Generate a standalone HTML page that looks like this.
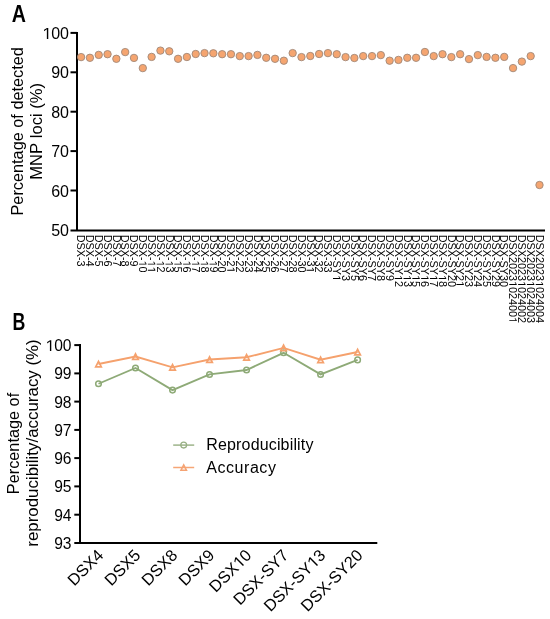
<!DOCTYPE html>
<html><head><meta charset="utf-8"><style>
html,body{margin:0;padding:0;background:#fff;}
body{width:550px;height:619px;overflow:hidden;}
svg{display:block;will-change:transform;}
text{font-family:"Liberation Sans",sans-serif;fill:#000;font-kerning:none;white-space:pre;}
.pl{font-size:23.4px;font-weight:bold;}
.tk{font-size:16px;}
.tkb{font-size:15.6px;}
.tt2{font-size:16.6px;}
.tt3{font-size:16.9px;}
.tt{font-size:16.3px;}
.xl{font-size:10.8px;}
.xb{font-size:16.4px;}
.lt{font-size:16px;}
.ax{stroke:#000;stroke-width:2;}
.dot{fill:#F5A570;stroke:#A08878;stroke-width:0.9;}
.lo{fill:none;stroke:#F5A16D;stroke-width:1.9;}
.lg{fill:none;stroke:#8EAA77;stroke-width:1.9;}
.lol{stroke:#F6A676;stroke-width:1.5;}
.lgl{stroke:#9DB48A;stroke-width:1.5;}
.cirl{fill:none;stroke:#98B085;stroke-width:1.3;}
.tril{fill:none;stroke:#F5A373;stroke-width:1.5;}
.tri{fill:none;stroke:#F5A16D;stroke-width:1.7;}
.cir{fill:none;stroke:#8EAA77;stroke-width:1.5;}
</style></head><body>
<svg width="550" height="619" viewBox="0 0 550 619">
<text transform="translate(11.8,22.1) scale(0.84,1)" class="pl">A</text>
<line x1="77.0" y1="31.9" x2="77.0" y2="230.9" class="ax"/>
<line x1="70.5" y1="230.4" x2="545" y2="230.4" class="ax"/>
<line x1="70.5" y1="32.9" x2="77.0" y2="32.9" class="ax"/>
<line x1="70.5" y1="72.3" x2="77.0" y2="72.3" class="ax"/>
<line x1="70.5" y1="111.7" x2="77.0" y2="111.7" class="ax"/>
<line x1="70.5" y1="151.1" x2="77.0" y2="151.1" class="ax"/>
<line x1="70.5" y1="190.5" x2="77.0" y2="190.5" class="ax"/>
<g transform="translate(69,38.90)"><text x="-26.695" y="0" class="tk"> 00</text><path transform="translate(-26.695,0) scale(0.00781,-0.00781)" d="M583 0H763V1409H600L225 1165V995L583 1232Z"/></g>
<g transform="translate(69,78.30)"><text x="-17.797" y="0" class="tk">90</text></g>
<g transform="translate(69,117.70)"><text x="-17.797" y="0" class="tk">80</text></g>
<g transform="translate(69,157.10)"><text x="-17.797" y="0" class="tk">70</text></g>
<g transform="translate(69,196.50)"><text x="-17.797" y="0" class="tk">60</text></g>
<g transform="translate(69,235.90)"><text x="-17.797" y="0" class="tk">50</text></g>
<text transform="translate(22.6,131.3) rotate(-90)" class="tt" text-anchor="middle">Percentage of detected</text>
<text transform="translate(42.3,131.3) rotate(-90)" class="tt2" text-anchor="middle">MNP loci (%)</text>
<circle cx="81.10" cy="57.1" r="3.7" class="dot"/>
<circle cx="89.92" cy="57.8" r="3.7" class="dot"/>
<circle cx="98.73" cy="54.9" r="3.7" class="dot"/>
<circle cx="107.55" cy="54.2" r="3.7" class="dot"/>
<circle cx="116.36" cy="58.8" r="3.7" class="dot"/>
<circle cx="125.18" cy="52.1" r="3.7" class="dot"/>
<circle cx="133.99" cy="57.9" r="3.7" class="dot"/>
<circle cx="142.81" cy="68.1" r="3.7" class="dot"/>
<circle cx="151.62" cy="56.9" r="3.7" class="dot"/>
<circle cx="160.44" cy="50.6" r="3.7" class="dot"/>
<circle cx="169.25" cy="51.3" r="3.7" class="dot"/>
<circle cx="178.07" cy="58.8" r="3.7" class="dot"/>
<circle cx="186.88" cy="57.0" r="3.7" class="dot"/>
<circle cx="195.70" cy="54.0" r="3.7" class="dot"/>
<circle cx="204.52" cy="53.1" r="3.7" class="dot"/>
<circle cx="213.33" cy="53.3" r="3.7" class="dot"/>
<circle cx="222.15" cy="54.2" r="3.7" class="dot"/>
<circle cx="230.96" cy="54.2" r="3.7" class="dot"/>
<circle cx="239.78" cy="56.1" r="3.7" class="dot"/>
<circle cx="248.59" cy="56.1" r="3.7" class="dot"/>
<circle cx="257.41" cy="54.9" r="3.7" class="dot"/>
<circle cx="266.22" cy="57.8" r="3.7" class="dot"/>
<circle cx="275.04" cy="58.8" r="3.7" class="dot"/>
<circle cx="283.85" cy="60.7" r="3.7" class="dot"/>
<circle cx="292.67" cy="53.1" r="3.7" class="dot"/>
<circle cx="301.48" cy="57.1" r="3.7" class="dot"/>
<circle cx="310.30" cy="56.0" r="3.7" class="dot"/>
<circle cx="319.12" cy="54.0" r="3.7" class="dot"/>
<circle cx="327.93" cy="53.1" r="3.7" class="dot"/>
<circle cx="336.75" cy="54.2" r="3.7" class="dot"/>
<circle cx="345.56" cy="57.1" r="3.7" class="dot"/>
<circle cx="354.38" cy="58.0" r="3.7" class="dot"/>
<circle cx="363.19" cy="56.1" r="3.7" class="dot"/>
<circle cx="372.01" cy="56.1" r="3.7" class="dot"/>
<circle cx="380.82" cy="55.1" r="3.7" class="dot"/>
<circle cx="389.64" cy="60.7" r="3.7" class="dot"/>
<circle cx="398.45" cy="59.9" r="3.7" class="dot"/>
<circle cx="407.27" cy="57.8" r="3.7" class="dot"/>
<circle cx="416.08" cy="57.8" r="3.7" class="dot"/>
<circle cx="424.90" cy="52.0" r="3.7" class="dot"/>
<circle cx="433.72" cy="56.1" r="3.7" class="dot"/>
<circle cx="442.53" cy="54.2" r="3.7" class="dot"/>
<circle cx="451.35" cy="57.1" r="3.7" class="dot"/>
<circle cx="460.16" cy="54.2" r="3.7" class="dot"/>
<circle cx="468.98" cy="59.1" r="3.7" class="dot"/>
<circle cx="477.79" cy="55.1" r="3.7" class="dot"/>
<circle cx="486.61" cy="56.9" r="3.7" class="dot"/>
<circle cx="495.42" cy="57.8" r="3.7" class="dot"/>
<circle cx="504.24" cy="56.9" r="3.7" class="dot"/>
<circle cx="513.05" cy="68.1" r="3.7" class="dot"/>
<circle cx="521.87" cy="61.6" r="3.7" class="dot"/>
<circle cx="530.68" cy="56.1" r="3.7" class="dot"/>
<circle cx="539.50" cy="185.0" r="3.7" class="dot"/>
<g transform="translate(77.35,234.8) rotate(90)"><text x="0.000" y="0" class="xl">DSX-3</text></g>
<g transform="translate(86.17,234.8) rotate(90)"><text x="0.000" y="0" class="xl">DSX-4</text></g>
<g transform="translate(94.98,234.8) rotate(90)"><text x="0.000" y="0" class="xl">DSX-5</text></g>
<g transform="translate(103.80,234.8) rotate(90)"><text x="0.000" y="0" class="xl">DSX-6</text></g>
<g transform="translate(112.61,234.8) rotate(90)"><text x="0.000" y="0" class="xl">DSX-7</text></g>
<g transform="translate(121.43,234.8) rotate(90)"><text x="0.000" y="0" class="xl">DSX-8</text></g>
<g transform="translate(130.24,234.8) rotate(90)"><text x="0.000" y="0" class="xl">DSX-9</text></g>
<g transform="translate(139.06,234.8) rotate(90)"><text x="0.000" y="0" class="xl">DSX- 0</text><path transform="translate(25.803,0) scale(0.00527,-0.00527)" d="M583 0H763V1409H600L225 1165V995L583 1232Z"/></g>
<g transform="translate(147.87,234.8) rotate(90)"><text x="0.000" y="0" class="xl">DSX-  </text><path transform="translate(25.803,0) scale(0.00527,-0.00527)" d="M583 0H763V1409H600L225 1165V995L583 1232Z"/><path transform="translate(31.809,0) scale(0.00527,-0.00527)" d="M583 0H763V1409H600L225 1165V995L583 1232Z"/></g>
<g transform="translate(156.69,234.8) rotate(90)"><text x="0.000" y="0" class="xl">DSX- 2</text><path transform="translate(25.803,0) scale(0.00527,-0.00527)" d="M583 0H763V1409H600L225 1165V995L583 1232Z"/></g>
<g transform="translate(165.50,234.8) rotate(90)"><text x="0.000" y="0" class="xl">DSX- 3</text><path transform="translate(25.803,0) scale(0.00527,-0.00527)" d="M583 0H763V1409H600L225 1165V995L583 1232Z"/></g>
<g transform="translate(174.32,234.8) rotate(90)"><text x="0.000" y="0" class="xl">DSX- 5</text><path transform="translate(25.803,0) scale(0.00527,-0.00527)" d="M583 0H763V1409H600L225 1165V995L583 1232Z"/></g>
<g transform="translate(183.13,234.8) rotate(90)"><text x="0.000" y="0" class="xl">DSX- 6</text><path transform="translate(25.803,0) scale(0.00527,-0.00527)" d="M583 0H763V1409H600L225 1165V995L583 1232Z"/></g>
<g transform="translate(191.95,234.8) rotate(90)"><text x="0.000" y="0" class="xl">DSX- 7</text><path transform="translate(25.803,0) scale(0.00527,-0.00527)" d="M583 0H763V1409H600L225 1165V995L583 1232Z"/></g>
<g transform="translate(200.77,234.8) rotate(90)"><text x="0.000" y="0" class="xl">DSX- 8</text><path transform="translate(25.803,0) scale(0.00527,-0.00527)" d="M583 0H763V1409H600L225 1165V995L583 1232Z"/></g>
<g transform="translate(209.58,234.8) rotate(90)"><text x="0.000" y="0" class="xl">DSX- 9</text><path transform="translate(25.803,0) scale(0.00527,-0.00527)" d="M583 0H763V1409H600L225 1165V995L583 1232Z"/></g>
<g transform="translate(218.40,234.8) rotate(90)"><text x="0.000" y="0" class="xl">DSX-20</text></g>
<g transform="translate(227.21,234.8) rotate(90)"><text x="0.000" y="0" class="xl">DSX-2 </text><path transform="translate(31.809,0) scale(0.00527,-0.00527)" d="M583 0H763V1409H600L225 1165V995L583 1232Z"/></g>
<g transform="translate(236.03,234.8) rotate(90)"><text x="0.000" y="0" class="xl">DSX-22</text></g>
<g transform="translate(244.84,234.8) rotate(90)"><text x="0.000" y="0" class="xl">DSX-23</text></g>
<g transform="translate(253.66,234.8) rotate(90)"><text x="0.000" y="0" class="xl">DSX-24</text></g>
<g transform="translate(262.47,234.8) rotate(90)"><text x="0.000" y="0" class="xl">DSX-25</text></g>
<g transform="translate(271.29,234.8) rotate(90)"><text x="0.000" y="0" class="xl">DSX-26</text></g>
<g transform="translate(280.10,234.8) rotate(90)"><text x="0.000" y="0" class="xl">DSX-27</text></g>
<g transform="translate(288.92,234.8) rotate(90)"><text x="0.000" y="0" class="xl">DSX-28</text></g>
<g transform="translate(297.73,234.8) rotate(90)"><text x="0.000" y="0" class="xl">DSX-30</text></g>
<g transform="translate(306.55,234.8) rotate(90)"><text x="0.000" y="0" class="xl">DSX-3 </text><path transform="translate(31.809,0) scale(0.00527,-0.00527)" d="M583 0H763V1409H600L225 1165V995L583 1232Z"/></g>
<g transform="translate(315.37,234.8) rotate(90)"><text x="0.000" y="0" class="xl">DSX-32</text></g>
<g transform="translate(324.18,234.8) rotate(90)"><text x="0.000" y="0" class="xl">DSX-33</text></g>
<g transform="translate(333.00,234.8) rotate(90)"><text x="0.000" y="0" class="xl">DSX-SY </text><path transform="translate(40.210,0) scale(0.00527,-0.00527)" d="M583 0H763V1409H600L225 1165V995L583 1232Z"/></g>
<g transform="translate(341.81,234.8) rotate(90)"><text x="0.000" y="0" class="xl">DSX-SY3</text></g>
<g transform="translate(350.63,234.8) rotate(90)"><text x="0.000" y="0" class="xl">DSX-SY5</text></g>
<g transform="translate(359.44,234.8) rotate(90)"><text x="0.000" y="0" class="xl">DSX-SY6</text></g>
<g transform="translate(368.26,234.8) rotate(90)"><text x="0.000" y="0" class="xl">DSX-SY7</text></g>
<g transform="translate(377.07,234.8) rotate(90)"><text x="0.000" y="0" class="xl">DSX-SY8</text></g>
<g transform="translate(385.89,234.8) rotate(90)"><text x="0.000" y="0" class="xl">DSX-SY9</text></g>
<g transform="translate(394.70,234.8) rotate(90)"><text x="0.000" y="0" class="xl">DSX-SY 2</text><path transform="translate(40.210,0) scale(0.00527,-0.00527)" d="M583 0H763V1409H600L225 1165V995L583 1232Z"/></g>
<g transform="translate(403.52,234.8) rotate(90)"><text x="0.000" y="0" class="xl">DSX-SY 3</text><path transform="translate(40.210,0) scale(0.00527,-0.00527)" d="M583 0H763V1409H600L225 1165V995L583 1232Z"/></g>
<g transform="translate(412.33,234.8) rotate(90)"><text x="0.000" y="0" class="xl">DSX-SY 5</text><path transform="translate(40.210,0) scale(0.00527,-0.00527)" d="M583 0H763V1409H600L225 1165V995L583 1232Z"/></g>
<g transform="translate(421.15,234.8) rotate(90)"><text x="0.000" y="0" class="xl">DSX-SY 6</text><path transform="translate(40.210,0) scale(0.00527,-0.00527)" d="M583 0H763V1409H600L225 1165V995L583 1232Z"/></g>
<g transform="translate(429.97,234.8) rotate(90)"><text x="0.000" y="0" class="xl">DSX-SY 7</text><path transform="translate(40.210,0) scale(0.00527,-0.00527)" d="M583 0H763V1409H600L225 1165V995L583 1232Z"/></g>
<g transform="translate(438.78,234.8) rotate(90)"><text x="0.000" y="0" class="xl">DSX-SY 8</text><path transform="translate(40.210,0) scale(0.00527,-0.00527)" d="M583 0H763V1409H600L225 1165V995L583 1232Z"/></g>
<g transform="translate(447.60,234.8) rotate(90)"><text x="0.000" y="0" class="xl">DSX-SY20</text></g>
<g transform="translate(456.41,234.8) rotate(90)"><text x="0.000" y="0" class="xl">DSX-SY2 </text><path transform="translate(46.216,0) scale(0.00527,-0.00527)" d="M583 0H763V1409H600L225 1165V995L583 1232Z"/></g>
<g transform="translate(465.23,234.8) rotate(90)"><text x="0.000" y="0" class="xl">DSX-SY23</text></g>
<g transform="translate(474.04,234.8) rotate(90)"><text x="0.000" y="0" class="xl">DSX-SY24</text></g>
<g transform="translate(482.86,234.8) rotate(90)"><text x="0.000" y="0" class="xl">DSX-SY25</text></g>
<g transform="translate(491.67,234.8) rotate(90)"><text x="0.000" y="0" class="xl">DSX-SY29</text></g>
<g transform="translate(500.49,234.8) rotate(90)"><text x="0.000" y="0" class="xl">DSX-SY30</text></g>
<g transform="translate(509.30,234.8) rotate(90)"><text x="0.000" y="0" class="xl">DSX2023 02400 </text><path transform="translate(46.232,0) scale(0.00527,-0.00527)" d="M583 0H763V1409H600L225 1165V995L583 1232Z"/><path transform="translate(82.271,0) scale(0.00527,-0.00527)" d="M583 0H763V1409H600L225 1165V995L583 1232Z"/></g>
<g transform="translate(518.12,234.8) rotate(90)"><text x="0.000" y="0" class="xl">DSX2023 024002</text><path transform="translate(46.232,0) scale(0.00527,-0.00527)" d="M583 0H763V1409H600L225 1165V995L583 1232Z"/></g>
<g transform="translate(526.93,234.8) rotate(90)"><text x="0.000" y="0" class="xl">DSX2023 024003</text><path transform="translate(46.232,0) scale(0.00527,-0.00527)" d="M583 0H763V1409H600L225 1165V995L583 1232Z"/></g>
<g transform="translate(535.75,234.8) rotate(90)"><text x="0.000" y="0" class="xl">DSX2023 024004</text><path transform="translate(46.232,0) scale(0.00527,-0.00527)" d="M583 0H763V1409H600L225 1165V995L583 1232Z"/></g>
<text transform="translate(12.6,329.8) scale(0.76,1)" class="pl">B</text>
<line x1="80.0" y1="344.1" x2="80.0" y2="543.9200000000001" class="ax"/>
<line x1="74.3" y1="542.9200000000001" x2="377.3" y2="542.9200000000001" class="ax"/>
<line x1="74.3" y1="345.1" x2="80.0" y2="345.1" class="ax"/>
<line x1="74.3" y1="373.4" x2="80.0" y2="373.4" class="ax"/>
<line x1="74.3" y1="401.6" x2="80.0" y2="401.6" class="ax"/>
<line x1="74.3" y1="429.9" x2="80.0" y2="429.9" class="ax"/>
<line x1="74.3" y1="458.1" x2="80.0" y2="458.1" class="ax"/>
<line x1="74.3" y1="486.4" x2="80.0" y2="486.4" class="ax"/>
<line x1="74.3" y1="514.7" x2="80.0" y2="514.7" class="ax"/>
<g transform="translate(71.5,351.00)"><text x="-26.028" y="0" class="tkb"> 00</text><path transform="translate(-26.028,0) scale(0.00762,-0.00762)" d="M583 0H763V1409H600L225 1165V995L583 1232Z"/></g>
<g transform="translate(71.5,379.26)"><text x="-17.352" y="0" class="tkb">99</text></g>
<g transform="translate(71.5,407.52)"><text x="-17.352" y="0" class="tkb">98</text></g>
<g transform="translate(71.5,435.78)"><text x="-17.352" y="0" class="tkb">97</text></g>
<g transform="translate(71.5,464.04)"><text x="-17.352" y="0" class="tkb">96</text></g>
<g transform="translate(71.5,492.30)"><text x="-17.352" y="0" class="tkb">95</text></g>
<g transform="translate(71.5,520.56)"><text x="-17.352" y="0" class="tkb">94</text></g>
<g transform="translate(71.5,548.82)"><text x="-17.352" y="0" class="tkb">93</text></g>
<text transform="translate(18.6,443.5) rotate(-90)" class="tt" text-anchor="middle">Percentage of</text>
<text transform="translate(38.0,443.0) rotate(-90)" class="tt3" text-anchor="middle">reproducibility/accuracy (%)</text>
<polyline points="98.50,383.75 135.51,368.00 172.53,390.11 209.54,374.43 246.56,370.00 283.57,352.80 320.59,374.43 357.60,359.89" class="lg"/>
<circle cx="98.50" cy="383.75" r="2.8" class="cir"/>
<circle cx="135.51" cy="368.00" r="2.8" class="cir"/>
<circle cx="172.53" cy="390.11" r="2.8" class="cir"/>
<circle cx="209.54" cy="374.43" r="2.8" class="cir"/>
<circle cx="246.56" cy="370.00" r="2.8" class="cir"/>
<circle cx="283.57" cy="352.80" r="2.8" class="cir"/>
<circle cx="320.59" cy="374.43" r="2.8" class="cir"/>
<circle cx="357.60" cy="359.89" r="2.8" class="cir"/>
<polyline points="98.50,363.99 135.51,356.50 172.53,367.37 209.54,359.47 246.56,357.29 283.57,347.89 320.59,359.75 357.60,352.01" class="lo"/>
<polygon points="98.50,361.34 101.30,366.84 95.70,366.84" class="tri"/>
<polygon points="135.51,353.85 138.31,359.35 132.71,359.35" class="tri"/>
<polygon points="172.53,364.72 175.33,370.22 169.73,370.22" class="tri"/>
<polygon points="209.54,356.82 212.34,362.32 206.74,362.32" class="tri"/>
<polygon points="246.56,354.64 249.36,360.14 243.76,360.14" class="tri"/>
<polygon points="283.57,345.24 286.37,350.74 280.77,350.74" class="tri"/>
<polygon points="320.59,357.10 323.39,362.60 317.79,362.60" class="tri"/>
<polygon points="357.60,349.36 360.40,354.86 354.80,354.86" class="tri"/>
<g transform="translate(104.50,556.4) rotate(-45)"><text x="-42.842" y="0" class="xb">DSX4</text></g>
<g transform="translate(141.51,556.4) rotate(-45)"><text x="-42.842" y="0" class="xb">DSX5</text></g>
<g transform="translate(178.53,556.4) rotate(-45)"><text x="-42.842" y="0" class="xb">DSX8</text></g>
<g transform="translate(215.54,556.4) rotate(-45)"><text x="-42.842" y="0" class="xb">DSX9</text></g>
<g transform="translate(252.56,556.4) rotate(-45)"><text x="-51.963" y="0" class="xb">DSX 0</text><path transform="translate(-18.242,0) scale(0.00801,-0.00801)" d="M583 0H763V1409H600L225 1165V995L583 1232Z"/></g>
<g transform="translate(289.57,556.4) rotate(-45)"><text x="-70.180" y="0" class="xb">DSX-SY7</text></g>
<g transform="translate(326.59,556.4) rotate(-45)"><text x="-79.301" y="0" class="xb">DSX-SY 3</text><path transform="translate(-18.242,0) scale(0.00801,-0.00801)" d="M583 0H763V1409H600L225 1165V995L583 1232Z"/></g>
<g transform="translate(363.60,556.4) rotate(-45)"><text x="-79.301" y="0" class="xb">DSX-SY20</text></g>
<line x1="173.2" y1="445.1" x2="194.2" y2="445.1" class="lgl"/>
<circle cx="183.7" cy="445.1" r="2.9" class="cirl"/>
<line x1="173.2" y1="467.5" x2="194.2" y2="467.5" class="lol"/>
<polygon points="183.70,464.85 186.50,470.35 180.90,470.35" class="tril"/>
<text x="206.3" y="450.3" class="lt" textLength="107.1" lengthAdjust="spacing">Reproducibility</text>
<text x="206.3" y="472.7" class="lt" textLength="69.6" lengthAdjust="spacing">Accuracy</text>
</svg>
</body></html>
